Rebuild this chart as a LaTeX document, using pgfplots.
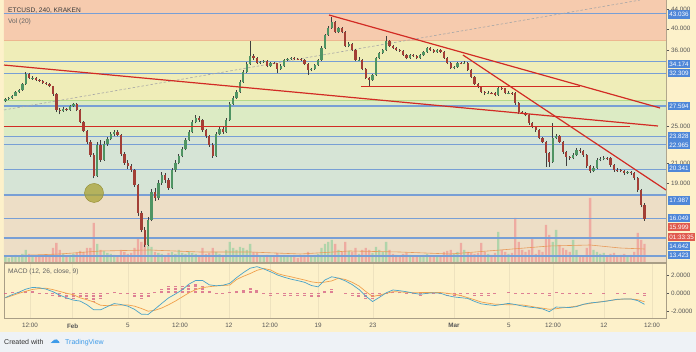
\documentclass[border=0pt]{standalone}
\usepackage{fontspec}
\setmainfont{Liberation Sans}
\newfontfamily\dejavu{DejaVu Sans}
\usepackage{pgfplots}
\usepackage{pgfplotstable}
\pgfplotsset{compat=1.18}
\definecolor{bgc}{HTML}{FDF1CA}
\definecolor{footc}{HTML}{EEF2F6}
\definecolor{bandA}{HTML}{F6CBAE}
\definecolor{bandB}{HTML}{EFEDB8}
\definecolor{bandC}{HTML}{DCEBC4}
\definecolor{bandD}{HTML}{D6E4D6}
\definecolor{bandE}{HTML}{EDDEC6}
\definecolor{bandAl}{HTML}{EDB690}
\definecolor{bandBl}{HTML}{B5D98A}
\definecolor{lvl}{HTML}{789FD5}
\definecolor{lvlbox}{HTML}{4F87D8}
\definecolor{redl}{HTML}{D22B24}
\definecolor{redbox}{HTML}{E05A4E}
\definecolor{upc}{HTML}{4F9463}
\definecolor{dnc}{HTML}{A23F36}
\definecolor{wickc}{HTML}{3F3F3F}
\definecolor{volup}{HTML}{A6D3A6}
\definecolor{voldn}{HTML}{EFA39B}
\definecolor{volma}{HTML}{E89A5A}
\definecolor{macdc}{HTML}{4AA3C8}
\definecolor{sigc}{HTML}{F0A04B}
\definecolor{histc}{HTML}{D45B82}
\definecolor{framec}{HTML}{A99E86}
\definecolor{tickc}{HTML}{555555}
\definecolor{tvblue}{HTML}{3D9BE9}
\definecolor{olivec}{HTML}{A9A235}

\pgfplotstableread{
o h l c v
28.30 28.75 28.10 28.55 5
28.55 28.85 28.40 28.68 4
28.68 29.10 28.55 28.96 6
28.96 29.70 28.90 29.52 7
29.52 29.95 29.40 29.81 5
29.81 30.85 29.70 30.68 8
30.68 32.45 30.60 32.19 12
32.19 32.35 31.40 31.58 8
31.58 31.90 31.35 31.65 5
31.65 31.80 31.10 31.28 6
31.28 31.50 30.95 31.13 5
31.13 31.30 30.70 30.83 6
30.83 31.00 30.50 30.68 5
30.68 30.80 30.20 30.39 7
30.39 30.45 29.00 29.24 14
29.24 29.35 26.80 27.08 19
27.08 27.40 26.50 26.94 12
26.94 27.45 26.80 27.21 8
27.21 27.35 26.90 27.08 6
27.08 27.80 26.95 27.60 7
27.60 28.05 27.45 27.87 8
27.87 27.95 26.90 27.08 9
27.08 27.20 25.40 25.56 11
25.56 25.70 24.30 24.48 10
24.48 24.60 23.00 23.21 14
23.21 23.40 21.60 21.81 14
21.81 22.00 19.50 19.71 39
19.71 23.20 19.60 22.88 18
22.88 23.40 21.10 21.29 12
21.29 23.30 21.20 22.99 11
22.99 23.80 22.80 23.55 9
23.55 24.40 23.40 24.12 8
24.12 24.65 23.95 24.36 7
24.36 24.55 23.85 24.01 6
24.01 24.10 21.70 21.91 12
21.91 22.10 20.80 20.98 10
20.98 21.30 20.40 20.68 8
20.68 20.90 20.10 20.29 9
20.29 20.40 18.70 18.88 14
18.88 19.00 16.30 16.50 24
16.50 16.70 15.05 15.21 20
15.21 15.40 14.00 14.15 18
14.15 16.20 14.05 15.96 16
15.96 18.50 15.85 18.25 15
18.25 18.60 17.50 17.74 10
17.74 19.30 17.60 19.06 9
19.06 20.10 18.90 19.81 8
19.81 20.00 19.10 19.34 7
19.34 19.50 18.45 18.61 9
18.61 20.50 18.50 20.29 10
20.29 21.25 20.10 20.98 8
20.98 21.95 20.85 21.70 12
21.70 22.70 21.55 22.45 9
22.45 23.70 22.30 23.44 8
23.44 24.60 23.30 24.36 10
24.36 25.85 24.20 25.56 9
25.56 26.40 25.40 26.05 8
26.05 26.30 25.60 25.80 7
25.80 25.95 24.40 24.59 14
24.59 24.75 23.70 23.89 8
23.89 24.00 22.70 22.88 9
22.88 23.05 21.50 21.70 14
21.70 24.40 21.60 24.12 10
24.12 25.00 24.00 24.71 8
24.71 24.90 24.15 24.36 7
24.36 26.10 24.25 25.80 12
25.80 28.10 25.70 27.87 20
27.87 28.95 27.75 28.68 14
28.68 29.80 28.55 29.52 12
29.52 31.25 29.40 30.98 15
30.98 32.80 30.85 32.50 14
32.50 34.10 32.35 33.78 12
33.78 37.70 33.65 35.10 18
35.10 35.40 34.50 34.76 10
34.76 34.90 33.70 33.94 9
33.94 34.35 33.80 34.10 6
34.10 34.50 33.95 34.27 5
34.27 34.40 33.25 33.46 7
33.46 34.15 33.30 33.94 6
33.94 34.10 33.70 33.90 5
33.90 34.00 32.30 32.97 9
32.97 33.70 32.85 33.46 6
33.46 34.65 33.35 34.43 7
34.43 34.80 34.30 34.60 5
34.60 34.95 34.45 34.76 6
34.76 34.90 34.45 34.60 5
34.60 34.75 34.40 34.55 4
34.55 34.70 34.25 34.43 5
34.43 34.55 33.60 33.78 7
33.78 33.90 32.10 32.82 10
32.82 33.15 32.60 32.97 6
32.97 33.80 32.85 33.61 7
33.61 34.65 33.50 34.43 8
34.43 36.75 34.30 36.48 14
36.48 39.10 36.35 38.83 18
38.83 40.45 38.70 40.16 20
40.16 42.34 40.00 41.33 22
41.33 41.60 39.20 39.39 18
39.39 40.40 39.20 40.16 12
40.16 40.30 39.20 39.39 10
39.39 39.50 36.65 36.83 20
36.83 37.50 36.60 37.19 11
37.19 37.30 35.95 36.13 10
36.13 36.25 34.25 34.43 14
34.43 34.90 34.30 34.50 8
34.50 34.60 32.80 32.97 12
32.97 33.10 31.40 31.58 14
31.58 31.75 30.40 31.28 12
31.28 32.25 31.15 32.04 9
32.04 35.00 31.90 34.76 15
34.76 35.85 34.60 35.61 12
35.61 36.35 35.45 36.13 10
36.13 38.64 36.00 37.73 20
37.73 37.90 36.65 36.83 12
36.83 37.00 36.30 36.48 8
36.48 36.60 35.95 36.13 7
36.13 36.30 35.80 35.96 6
35.96 36.10 35.10 35.27 8
35.27 35.40 34.55 34.76 9
34.76 35.45 34.60 35.27 7
35.27 35.50 34.95 35.10 5
35.10 35.25 34.55 34.76 6
34.76 35.45 34.60 35.27 6
35.27 35.95 35.10 35.78 7
35.78 36.70 35.65 36.48 8
36.48 36.60 35.95 36.13 6
36.13 36.30 35.60 35.78 5
35.78 36.30 35.65 36.13 5
36.13 36.25 35.60 35.78 6
35.78 35.90 34.60 34.76 10
34.76 34.90 33.75 33.94 11
33.94 34.10 32.95 33.13 12
33.13 33.50 32.90 33.29 8
33.29 34.15 33.15 33.94 10
33.94 34.10 33.70 33.90 19
33.90 34.20 33.75 33.94 12
33.94 34.05 32.65 32.82 10
32.82 32.95 31.55 31.73 9
31.73 31.85 30.50 30.68 8
30.68 30.85 30.05 30.24 9
30.24 30.40 29.35 29.52 19
29.52 29.70 29.10 29.38 10
29.38 29.60 29.20 29.40 8
29.40 29.55 29.20 29.38 7
29.38 29.50 28.90 29.10 9
29.10 30.40 29.00 30.10 30
30.10 30.25 29.85 30.05 12
30.05 30.15 29.20 29.38 10
29.38 29.60 29.20 29.40 8
29.40 29.55 29.15 29.38 9
29.38 29.50 27.80 28.00 44
28.00 28.10 26.60 26.82 20
26.82 27.00 26.50 26.69 12
26.69 26.85 26.25 26.43 10
26.43 26.55 25.25 25.44 12
25.44 25.60 24.80 24.95 24
24.95 25.10 24.40 24.59 8
24.59 24.70 23.50 23.67 12
23.67 23.80 23.05 23.21 10
23.21 23.35 20.60 22.02 37
22.02 22.15 20.59 21.09 27
21.09 25.44 21.00 23.67 20
23.67 24.10 23.50 23.89 32
23.89 24.00 23.05 23.21 17
23.21 23.35 21.95 22.12 14
22.12 22.25 20.70 21.60 12
21.60 21.75 21.30 21.50 10
21.50 22.00 21.35 21.81 22
21.81 22.55 21.70 22.34 12
22.34 22.50 22.05 22.23 6
22.23 22.35 21.60 21.81 5
21.81 21.95 20.50 20.68 14
20.68 20.80 20.00 20.19 64
20.19 20.70 20.05 20.49 12
20.49 21.50 20.40 21.29 10
21.29 21.60 21.15 21.39 8
21.39 21.70 21.25 21.50 9
21.50 21.65 21.30 21.45 6
21.45 21.55 20.60 20.79 8
20.79 20.90 20.10 20.29 9
20.29 20.45 20.10 20.25 6
20.25 20.40 20.05 20.19 7
20.19 20.30 19.85 20.00 8
20.00 20.20 19.90 20.05 6
20.05 20.15 19.85 20.00 7
20.00 20.10 19.35 19.52 10
19.52 19.65 18.25 18.43 29
18.43 18.55 16.95 17.15 22
17.15 17.30 15.90 16.00 18
}\candles

\pgfplotstableread{
x m s
-4.9 -0.47 -0.50
-4.4 -0.15 -0.25
-3.9 0.12 0.00
-3.4 0.45 0.22
-2.9 0.64 0.42
-2.4 0.60 0.52
-1.9 0.45 0.55
-1.4 0.17 0.40
-0.9 -0.20 0.20
-0.4 -0.50 0.00
0.1 -0.74 -0.15
0.6 -0.85 -0.50
1.1 -1.25 -0.70
1.6 -1.80 -0.95
2.1 -1.80 -1.30
2.6 -1.45 -1.35
3.1 -1.12 -1.30
3.6 -1.22 -1.28
4.1 -1.40 -1.27
4.6 -1.75 -1.40
5.1 -2.28 -1.65
5.6 -2.30 -1.95
6.1 -1.72 -1.85
6.6 -1.10 -1.60
7.1 -0.50 -1.25
7.6 -0.08 -0.85
8.1 0.37 -0.40
8.6 1.00 0.05
9.1 1.40 0.40
9.6 1.40 0.62
10.1 0.92 0.72
10.6 0.82 0.80
11.1 0.88 0.85
11.6 1.08 0.90
12.1 1.70 1.50
12.6 2.25 1.85
13.1 2.73 2.15
13.6 2.90 2.50
14.1 2.65 2.70
14.6 2.35 2.55
15.1 2.00 2.15
15.6 1.75 1.95
16.1 1.54 1.80
16.6 1.38 1.62
17.1 1.20 1.45
17.6 0.85 1.25
18.1 0.70 1.15
18.6 1.45 1.22
19.1 1.80 1.35
19.6 1.65 1.65
20.1 1.35 1.50
20.6 0.95 1.20
21.1 0.42 0.80
21.6 -0.30 0.20
22.1 -0.90 -0.35
22.6 -0.45 -0.20
23.1 0.05 0.00
23.6 0.36 0.17
24.1 0.28 0.15
24.6 0.17 0.10
25.1 0.02 0.05
25.6 -0.11 0.08
26.1 0.00 0.08
26.6 0.05 0.10
27.1 0.00 0.08
27.6 -0.25 0.00
28.1 -0.40 -0.10
28.6 -0.48 -0.25
29.1 -0.56 -0.48
29.6 -0.88 -0.70
30.1 -1.15 -0.95
30.6 -1.25 -1.08
31.1 -1.33 -1.18
31.6 -1.22 -1.22
32.1 -1.10 -1.25
32.6 -1.22 -1.26
33.1 -1.38 -1.27
33.6 -1.50 -1.38
34.1 -1.58 -1.52
34.6 -1.70 -1.62
35.1 -2.00 -1.74
35.6 -1.50 -1.68
36.1 -1.52 -1.58
36.6 -1.55 -1.50
37.1 -1.45 -1.40
37.6 -1.20 -1.22
38.1 -1.05 -1.10
38.6 -0.98 -0.98
39.1 -0.90 -0.88
39.6 -0.78 -0.78
40.1 -0.65 -0.68
40.6 -0.62 -0.63
41.1 -0.62 -0.62
41.6 -0.80 -0.70
42.1 -1.20 -0.92
}\macd

\pgfplotstableread{
x ma
-4.9 6
-0.9 8
2.1 11
5.7 12
9.4 10
13.1 10
16.8 8
20.4 11
24.1 10
27.8 8
31.5 12
35.1 16
38.1 17
40.3 14
42.1 13
}\volmatab

\newcommand\band[3]{\addplot[fill=#3, draw=none, mark=none, forget plot] table[row sep=\\, y expr={ln(\thisrow{p})}] {x p\\ -6 #1\\ 45 #1\\ 45 #2\\ -6 #2\\};}
\newcommand\seg[5]{\addplot[#5, mark=none, forget plot] table[row sep=\\, y expr={ln(\thisrow{p})}] {x p\\ #1 #2\\ #3 #4\\};}
\newcommand\lbl[3]{\node[anchor=west, fill=#3, text=white, inner xsep=1.6pt, inner ysep=0pt, minimum height=8.4pt, font=\fontsize{6.3}{7}\selectfont] at (667.5pt,#1pt) {#2};}

\begin{document}
\begin{tikzpicture}[x=1pt,y=1pt]
\useasboundingbox (0,0) rectangle (696,352);
\fill[bgc] (0,20) rectangle (696,352);
\fill[footc] (0,0) rectangle (696,20);

% main price pane
\begin{axis}[at={(4pt,90pt)}, anchor=south west, width=662pt, height=262pt, scale only axis,
  xmin=-5, xmax=43.68, ymin=2.56784, ymax=3.82746,
  axis line style={draw=framec, line width=0.7pt},
  xtick={-3.09,0.05,4.10,7.94,11.54,14.56,18.09,22.13,28.09,32.13,35.37,39.12,42.65},
  xticklabels={}, xtick style={draw=none},
  xmajorgrids, grid style={draw=black, opacity=0.06, line width=0.5pt},
  ytick={3.78419,3.68888,3.58352,3.21888,3.04452,2.94444},
  yticklabels={44.000,40.000,36.000,25.000,21.000,19.000},
  ytick pos=right, yticklabel pos=right, tick align=outside, major tick length=3pt,
  ytick style={draw=tickc, line width=0.5pt},
  yticklabel style={font=\fontsize{6.3}{7}\selectfont, text=tickc, xshift=-1.5pt},
  clip=true]
\band{50}{37.91}{bandA}
\band{37.91}{28.41}{bandB}
\band{28.41}{23.83}{bandC}
\band{23.83}{17.99}{bandD}
\band{17.99}{12}{bandE}
\seg{-5}{37.91}{43.7}{37.91}{draw=bandAl, line width=0.6pt}
\seg{-5}{28.41}{43.7}{28.41}{draw=bandBl, line width=0.8pt}
% volume
\addplot[ybar, bar width=2.3pt, bar shift=0pt, fill=volup, draw=none, mark=none, fill opacity=0.85, forget plot]
  table[x expr={\coordindex/4-4.9}, y expr={2.56784+(\thisrow{c}>\thisrow{o})*\thisrow{v}/208}] {\candles};
\addplot[ybar, bar width=2.3pt, bar shift=0pt, fill=voldn, draw=none, mark=none, fill opacity=0.85, forget plot]
  table[x expr={\coordindex/4-4.9}, y expr={2.56784+(\thisrow{c}<\thisrow{o})*\thisrow{v}/208}] {\candles};
\addplot[volma, line width=0.6pt, mark=none, forget plot] table[x=x, y expr={2.56784+\thisrow{ma}/208}] {\volmatab};
% horizontal levels
\seg{-5}{43.036}{43.7}{43.036}{draw=lvl, line width=1.3pt}
\seg{-5}{34.174}{43.7}{34.174}{draw=lvl, line width=1.3pt}
\seg{-5}{32.309}{43.7}{32.309}{draw=lvl, line width=1.3pt}
\seg{-5}{27.594}{43.7}{27.594}{draw=lvl, line width=1.3pt}
\seg{-5}{23.828}{43.7}{23.828}{draw=lvl, line width=1.3pt}
\seg{-5}{22.965}{43.7}{22.965}{draw=lvl, line width=1.3pt}
\seg{-5}{20.341}{43.7}{20.341}{draw=lvl, line width=1.3pt}
\seg{-5}{17.987}{43.7}{17.987}{draw=lvl, line width=1.3pt}
\seg{-5}{16.049}{43.7}{16.049}{draw=lvl, line width=1.3pt}
\seg{-5}{14.642}{43.7}{14.642}{draw=lvl, line width=1.3pt}
\seg{-5}{13.423}{43.7}{13.423}{draw=lvl, line width=1.3pt}
% dashed fib trend
\seg{-5}{27.08}{41.76}{45.92}{draw=black!35, line width=0.6pt, dash pattern=on 2.5pt off 2pt}
% candles: wicks
\addplot[draw=none, mark=none, forget plot,
  error bars/.cd, y dir=both, y explicit, error mark=none,
  error bar style={line width=0.6pt, draw=wickc, solid}]
  table[x expr={\coordindex/4-4.9}, y expr={ln(\thisrow{l})},
    y error plus expr={ln(\thisrow{h})-ln(\thisrow{l})}, y error minus expr={0}] {\candles};
% up bodies
\addplot[draw=none, mark=none, forget plot,
  error bars/.cd, y dir=both, y explicit, error mark=none,
  error bar style={line width=2.3pt, draw=upc, solid}]
  table[x expr={\coordindex/4-4.9}, y expr={ln(\thisrow{o})},
    y error plus expr={(\thisrow{c}>\thisrow{o})*(ln(\thisrow{c})-ln(\thisrow{o}))}, y error minus expr={0}] {\candles};
% down bodies
\addplot[draw=none, mark=none, forget plot,
  error bars/.cd, y dir=both, y explicit, error mark=none,
  error bar style={line width=2.3pt, draw=dnc, solid}]
  table[x expr={\coordindex/4-4.9}, y expr={ln(\thisrow{o})},
    y error plus expr={0}, y error minus expr={(\thisrow{c}<\thisrow{o})*(ln(\thisrow{o})-ln(\thisrow{c}))}] {\candles};
% red trend lines
\seg{-5}{33.61}{43.09}{25.07}{draw=redl, line width=1.2pt}
\seg{18.90}{42.75}{43.24}{27.34}{draw=redl, line width=1.2pt}
\seg{28.75}{35.27}{43.68}{18.43}{draw=redl, line width=1.2pt}
\seg{21.25}{30.28}{37.35}{30.28}{draw=redl, line width=1.2pt}
\seg{-5}{25.0}{41.03}{25.0}{draw=redl, line width=1.2pt}
% highlight circle
\addplot[only marks, mark=*, mark size=9.5pt, mark options={fill=olivec, draw=olivec!85!black, fill opacity=0.75, line width=0.4pt}, forget plot] coordinates {(1.62,2.89977)};
\end{axis}

% MACD pane
\begin{axis}[at={(4pt,34pt)}, anchor=south west, width=662pt, height=55pt, scale only axis,
  xmin=-5, xmax=43.68, ymin=-2.69, ymax=3.30,
  axis background/.style={fill=bgc},
  axis line style={draw=framec, line width=0.7pt},
  xtick={-3.09,0.05,4.10,7.94,11.54,14.56,18.09,22.13,28.09,32.13,35.37,39.12,42.65},
  xticklabels={12:00,\textbf{Feb},5,12:00,12,12:00,19,23,\textbf{Mar},5,12:00,12,12:00},
  xtick style={draw=none}, xmajorgrids, grid style={draw=black, opacity=0.06, line width=0.5pt},
  xticklabel style={font=\fontsize{6.3}{7}\selectfont, text=tickc, yshift=1pt},
  ytick={-2,0,2}, yticklabels={-2.0000,0.0000,2.0000},
  ytick pos=right, yticklabel pos=right, tick align=outside, major tick length=3pt,
  ytick style={draw=tickc, line width=0.5pt},
  yticklabel style={font=\fontsize{6.3}{7}\selectfont, text=tickc, xshift=-1.5pt}]
\addplot[ycomb, mark=none, draw=histc, line width=3pt, dash pattern=on 0.8pt off 0.7pt, opacity=0.75] table[x=x, y expr={\thisrow{m}-\thisrow{s}}] {\macd};
\addplot[sigc, mark=none, line width=0.7pt] table[x=x, y=s] {\macd};
\addplot[macdc, mark=none, line width=0.7pt] table[x=x, y=m] {\macd};
\end{axis}

% price labels
\lbl{337.3}{43.036}{lvlbox}
\lbl{287.7}{34.174}{lvlbox}
\lbl{278.7}{32.309}{lvlbox}
\lbl{246}{27.594}{lvlbox}
\lbl{215.3}{23.828}{lvlbox}
\lbl{207}{22.965}{lvlbox}
\lbl{184}{20.341}{lvlbox}
\lbl{151.3}{17.987}{lvlbox}
\lbl{134}{16.049}{lvlbox}
\lbl{124.7}{15.999}{redbox}
\lbl{115}{01:33:35}{redbox}
\lbl{106}{14.642}{lvlbox}
\lbl{97}{13.423}{lvlbox}

% titles
\node[anchor=west, inner sep=0pt, font=\fontsize{6.6}{8}\selectfont, text=black!78] at (8,341) {ETCUSD, 240, KRAKEN};
\node[anchor=west, inner sep=0pt, font=\fontsize{6.6}{8}\selectfont, text=black!62] at (8,330.5) {Vol (20)};
\node[anchor=west, inner sep=0pt, font=\fontsize{6.6}{8}\selectfont, text=black!62] at (8,80.3) {MACD (12, 26, close, 9)};

% footer
\node[anchor=west, inner sep=0pt, font=\fontsize{7}{8}\selectfont, text=black!80] at (4,9.5) {Created with};
\node[anchor=west, inner sep=0pt, font=\dejavu\fontsize{10}{10}\selectfont, text=tvblue] at (50,10) {☁};
\node[anchor=west, inner sep=0pt, font=\fontsize{7}{8}\selectfont, text=tvblue] at (65,9.5) {TradingView};
\end{tikzpicture}
\end{document}
